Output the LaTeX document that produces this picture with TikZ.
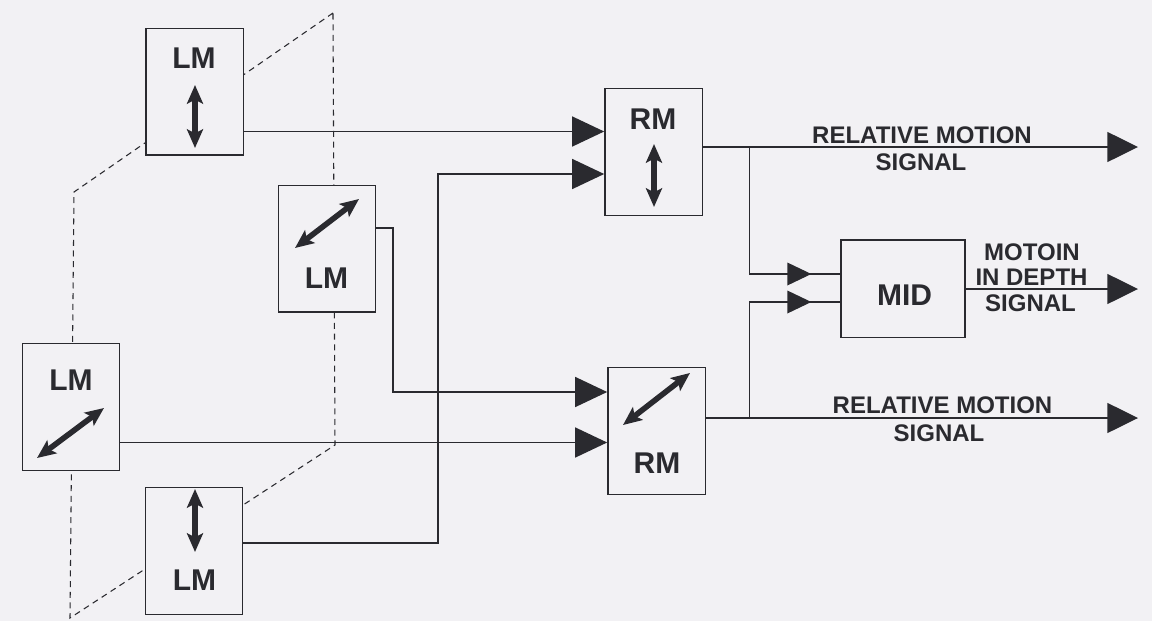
\documentclass[tikz,border=0pt]{standalone}
\usepackage{fontspec}
\setmainfont{Liberation Sans}
\usetikzlibrary{arrows.meta,decorations.markings}
\definecolor{bg}{RGB}{242,241,244}
\definecolor{ink}{RGB}{42,42,47}
\begin{document}
\begin{tikzpicture}[x=0.75pt,y=-0.75pt,
  blk/.style={draw=ink,line width=1pt,fill=bg,minimum width=73pt,minimum height=95pt,inner sep=0pt},
  midblk/.style={blk,minimum width=93pt,minimum height=73pt},
  boxlbl/.style={inner sep=0pt,text=ink,font=\fontsize{22.5}{27}\selectfont\bfseries},
  siglbl/.style={inner sep=0pt,text=ink,font=\fontsize{18}{20}\selectfont\bfseries,anchor=base},
  conn/.style={draw=ink,line width=1pt},
  intip/.style={arrows=-{Triangle[length=24pt,width=22.5pt]}},
  outtip/.style={arrows=-{Triangle[length=23pt,width=22.5pt]}},
  midtip/.style={postaction={decorate},decoration={markings,mark=at position -21.75pt with {\arrow{Triangle[length=18pt,width=17pt]}}}},
  plane/.style={draw=ink,line width=0.8pt,dash pattern=on 4.5pt off 3.5pt},
  dbl/.style={draw=ink,line width=4.2pt,arrows={Stealth[length=14pt,width=12pt,inset=3pt]-Stealth[length=14pt,width=12pt,inset=3pt]}},
]
\fill[bg] (0,0) rectangle (1152,621);
\useasboundingbox (0,0) rectangle (1152,621);

% dashed plane
\coordinate (p1) at (333,13);
\coordinate (p2) at (74,192);
\coordinate (p3) at (70,618);
\coordinate (p4) at (335,445);
\draw[plane] (p1) -- (p2) -- (p3) -- (p4) -- cycle;

% blocks
\node[blk] (LMa) at (194.5,91.5) {};
\node[blk] (LMb) at (327,248.5) {};
\node[blk] (LMc) at (71,407) {};
\node[blk] (LMd) at (194,551) {};
\node[blk] (RMa) at (653.5,152) {};
\node[blk] (RMb) at (656.5,431) {};
\node[midblk] (MID) at (903,288.5) {};

% helper coordinates
\coordinate (yA) at (0,131.5);
\coordinate (yB) at (0,174);
\coordinate (yC) at (0,228);
\coordinate (yD) at (0,392);
\coordinate (yE) at (0,442.5);
\coordinate (yF) at (0,543);
\coordinate (yG) at (0,147);
\coordinate (yH) at (0,418);
\coordinate (yI) at (0,289);
\coordinate (yJ) at (0,274);
\coordinate (yK) at (0,302);
\coordinate (v1) at (393,0);
\coordinate (v2) at (438,0);
\coordinate (br) at (749.5,0);
\coordinate (tipx) at (1138,0);
\coordinate (jA) at (br |- yG);
\coordinate (jB) at (br |- yH);
\coordinate (outA) at (tipx |- yG);
\coordinate (outB) at (tipx |- yH);
\coordinate (outM) at (tipx |- yI);

% connectors
\draw[conn,intip] (LMa.east |- yA) -- (RMa.west |- yA);
\draw[conn,intip] (LMd.east |- yF) -| (v2 |- yB) -- (RMa.west |- yB);
\draw[conn,intip] (LMb.east |- yC) -| (v1 |- yD) -- (RMb.west |- yD);
\draw[conn,intip] (LMc.east |- yE) -- (RMb.west |- yE);
\draw[conn,outtip] (RMa.east |- yG) -- (outA);
\draw[conn,outtip] (RMb.east |- yH) -- (outB);
\draw[conn,outtip] (MID.east |- yI) -- (outM);
\draw[conn,midtip] (jA) |- (MID.west |- yJ);
\draw[conn,midtip] (jB) |- (MID.west |- yK);

% direction arrows inside blocks
\draw[dbl] (195,85) -- (195,148);
\draw[dbl] (295,248) -- (359,199);
\draw[dbl] (37,458) -- (104,408);
\draw[dbl] (195,489) -- (195,552);
\draw[dbl] (654,144) -- (654,207);
\draw[dbl] (623,425) -- (690,373);

% block labels
\node[boxlbl] (tLMa) at (194,58.5) {LM};
\node[boxlbl] (tLMb) at (326.5,278.5) {LM};
\node[boxlbl] (tLMc) at (71,380) {LM};
\node[boxlbl] (tLMd) at (194.5,580) {LM};
\node[boxlbl] (tRMa) at (653,119) {RM};
\node[boxlbl] (tRMb) at (657,463) {RM};
\node[boxlbl] (tMID) at (904.5,295) {MID};

% signal labels
\node[siglbl] (sA1) at (922,143) {RELATIVE MOTION};
\node[siglbl] (sA2) at (921,170) {SIGNAL};
\node[siglbl] (sB1) at (942.5,413) {RELATIVE MOTION};
\node[siglbl] (sB2) at (939,441) {SIGNAL};
\node[siglbl] (sM1) at (1032,260) {MOTOIN};
\node[siglbl] (sM2) at (1031.5,285) {IN DEPTH};
\node[siglbl] (sM3) at (1030.5,311) {SIGNAL};
\end{tikzpicture}
\end{document}
